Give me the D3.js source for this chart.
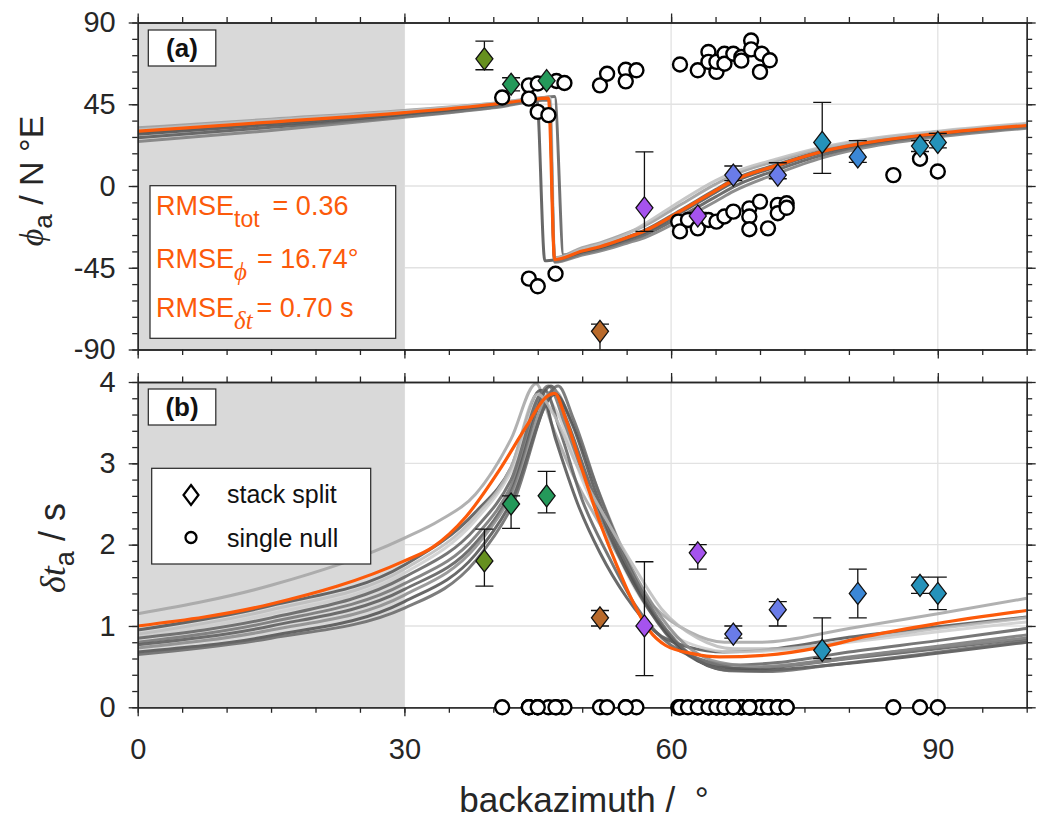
<!DOCTYPE html>
<html><head><meta charset="utf-8">
<script src="https://cdn.jsdelivr.net/npm/d3@7"></script>
<style>
body{margin:0;background:#fff}
svg{display:block}
text{font-family:"Liberation Sans",Arial,Helvetica,sans-serif}
</style>
</head><body>
<svg id="c" width="1039" height="825"></svg>
<script>
// ---------------- DATA ----------------
const xTickValues = [0, 30, 60, 90];
const xTickLabels = ["0", "30", "60", "90"];
const phiTickValues = [-90, -45, 0, 45, 90];
const phiTickLabels = ["-90", "-45", "0", "45", "90"];
const dtTickValues = [0, 1, 2, 3, 4];
const dtTickLabels = ["0", "1", "2", "3", "4"];

// stack splits (diamonds)
const splitBaz   = [39, 42, 46, 52, 57, 63, 67, 72, 77, 81, 88, 90];
const splitPhi   = [70, 56, 58, -80, -12, -16.5, 6, 6, 24, 16, 22, 24];
const splitPhiLo = [64, 52.4, 56.5, -95, -25, -18.5, 3, 4, 7, 13, 19, 21];
const splitPhiHi = [79.7, 59.6, 59.5, -76, 18.8, -14.5, 11, 12.8, 46, 25, 25, 29];
const splitDt    = [1.8, 2.5, 2.6, 1.1, 1.0, 1.9, 0.9, 1.2, 0.7, 1.4, 1.5, 1.4];
const splitDtLo  = [1.49, 2.2, 2.39, 1.0, 0.39, 1.7, 0.85, 1.0, 0.6, 1.1, 1.4, 1.2];
const splitDtHi  = [2.19, 2.6, 2.9, 1.19, 1.79, 2.0, 1.0, 1.3, 1.1, 1.7, 1.6, 1.6];
const splitColor = ["#66901f", "#24995a", "#24995a", "#b96a2b", "#a553ee", "#a553ee",
                    "#6a7ce8", "#6a7ce8", "#2592ba", "#3b87d6", "#2592ba", "#2592ba"];

// single nulls (circles): backazimuth and fast axis
const nullBaz = [41, 44, 44, 45, 45, 46.2, 47.1, 48, 52, 52.8, 54.9, 56.1, 54.9,
                 61, 63, 64.2, 64.2, 65.1, 65.1, 66, 66, 67, 67.9, 67.9, 69, 69, 70.2, 71.1, 70,
                 44, 45, 47,
                 60.8, 61, 61.9, 63, 64.2, 65.1, 66, 67, 68.8, 70, 68.8, 68.8, 70.9, 72, 72, 73, 73,
                 85, 88, 90];
const nullPhi = [48.7, 55.4, 48.1, 56.4, 40.8, 39, 57.8, 56.7, 55.4, 61.8, 64, 63.7, 57.6,
                 66.9, 63.7, 73.8, 68.3, 62.8, 68.3, 72.8, 67.3, 72.8, 71, 69, 80.1, 75.2, 72.8, 69.2, 62.8,
                 -51, -55.2, -48.3,
                 -19.6, -25, -18.7, -23.3, -18.7, -19.6, -16.8, -14.1, -12.3, -8.6, -16.8, -23.8, -23.3, -10.4, -15, -9.5, -12,
                 6, 15, 8];

// best model (orange) [baz, value]
const bestPhi = [[0,30.2],[15,35.2],[30,40.4],[40,45],[43.7,47.2],[46.2,48.4],[46.9,-40.5],[50,-35.8],[52,-33.4],
  [55,-28.5],[57,-24.8],[61,-14],[65,-2.5],[67,3],[72,11.5],[77,19],[81,23],[90,28.9],[100,33.3]];
const bestDt = [[0,1.0],[15,1.27],[30,1.8],[33.2,1.97],[36.9,2.34],[40.7,2.92],[43.7,3.45],[45.9,3.81],[46.9,3.86],
  [48.2,3.53],[50,2.92],[51.9,2.3],[53.8,1.77],[55.6,1.32],[57.5,0.95],[59.4,0.76],[62.4,0.66],[65.4,0.62],
  [70.6,0.64],[76.9,0.74],[81.9,0.87],[89.9,1.03],[100,1.19]];

// ensemble of other models (grey)
const ensPhi = [
  [[0,28.5],[15,33.8],[30,39.2],[40,44],[44.9,47.3],[45.8,-41.2],[47,-40.6],[50,-36.5],[52,-34],[55,-29.2],[57,-25.6],[61,-15],[65,-3.5],[67,2],[72,10.8],[77,18.5],[81,22.6],[90,28.6],[100,33]],
  [[0,29.5],[15,34.7],[30,40],[40,44.8],[44,47.3],[46.9,49.2],[47.9,-38],[50,-35.4],[52,-33],[55,-28.2],[57,-24.4],[61,-13.5],[65,-2],[67,3.5],[72,12],[77,19.4],[81,23.3],[90,29.2],[100,33.6]],
  [[0,32],[15,36.8],[30,41.6],[40,45.6],[46.3,48.8],[46.9,-39.5],[50,-34],[52,-31.3],[55,-26],[57,-22],[61,-10.5],[65,1],[67,6],[72,14],[77,20.8],[81,24.5],[90,29.8],[100,34]],
  [[0,26.5],[15,32.3],[30,38.3],[40,43.4],[46.3,47.6],[46.9,-41.5],[50,-37.2],[52,-35],[55,-30.5],[57,-27],[61,-17],[65,-6],[67,-0.5],[72,9],[77,17],[81,21.5],[90,27.8],[100,32.3]],
  [[0,31],[15,36.2],[30,41.2],[40,45.4],[46.4,48.5],[46.9,-40],[50,-34.8],[52,-32],[55,-26.5],[57,-21],[61,-8.5],[65,3],[67,7.5],[72,15],[77,21.3],[81,25],[90,30.2],[100,34.5]],
  [[0,24.5],[15,30.5],[30,37.8],[40,43],[46.3,47.3],[46.9,-42],[50,-38],[52,-35.8],[55,-31.5],[57,-28.5],[61,-19],[65,-8.5],[67,-3],[72,7],[77,15.5],[81,20.3],[90,27],[100,31.8]]
];
const ensDt = [
  [[0,1.15],[15,1.5],[30,2.08],[34,2.3],[38,2.62],[42,3.3],[44.8,3.98],[46.5,3.5],[49,2.85],[52,2.25],[55,1.7],[58,1.25],[62,0.93],[66,0.8],[70,0.8],[80,0.97],[90,1.15],[100,1.34]],
  [[0,0.95],[15,1.25],[30,1.75],[38,2.4],[42,2.95],[45.3,3.9],[47,3.3],[49.5,2.5],[52,1.9],[55,1.35],[58,0.95],[62,0.74],[66,0.68],[70,0.7],[80,0.86],[90,0.99],[100,1.11]],
  [[0,0.88],[15,1.15],[30,1.65],[38,2.3],[42,2.9],[45.5,3.85],[47.3,3.6],[50,2.8],[53,2.1],[56,1.45],[59,1.0],[63,0.75],[67,0.68],[72,0.7],[80,0.8],[90,0.93],[100,1.05]],
  [[0,0.85],[15,1.1],[30,1.6],[38,2.2],[42,2.8],[45.8,3.9],[47.5,3.4],[50,2.55],[53,1.85],[56,1.25],[59,0.85],[63,0.6],[67,0.52],[72,0.55],[80,0.68],[90,0.82],[100,0.97]],
  [[0,0.8],[15,1.05],[30,1.52],[38,2.1],[42,2.72],[46.2,3.95],[48,3.5],[50.5,2.75],[53.5,2.0],[57,1.3],[60,0.85],[64,0.55],[68,0.48],[73,0.52],[80,0.62],[90,0.75],[100,0.89]],
  [[0,0.77],[15,1.0],[30,1.45],[38,2.02],[42,2.65],[46.5,3.95],[48.2,3.55],[51,2.7],[54,1.9],[57.5,1.2],[61,0.72],[65,0.5],[69,0.47],[74,0.52],[80,0.6],[90,0.72],[100,0.85]],
  [[0,0.73],[15,0.95],[30,1.38],[38,1.97],[42,2.6],[46.8,3.9],[48.5,3.6],[51.5,2.75],[54.5,1.95],[58,1.25],[61.5,0.78],[65.5,0.55],[70,0.5],[76,0.55],[85,0.68],[100,0.85]],
  [[0,0.68],[15,0.88],[30,1.3],[38,1.88],[42,2.52],[47,3.85],[48.8,3.5],[51.5,2.65],[54.5,1.85],[58,1.15],[62,0.65],[66,0.46],[70,0.45],[76,0.5],[85,0.6],[100,0.8]],
  [[0,0.65],[15,0.85],[30,1.22],[38,1.8],[42,2.45],[47.3,3.95],[49,3.55],[52,2.6],[55,1.8],[58.5,1.1],[62.5,0.62],[66.5,0.45],[71,0.44],[78,0.52],[88,0.65],[100,0.82]],
  [[0,0.9],[15,1.2],[30,1.7],[38,2.35],[42,2.95],[45,3.85],[46.8,3.6],[49.5,2.95],[52.5,2.35],[56,1.7],[59,1.2],[63,0.85],[67,0.72],[72,0.72],[80,0.82],[90,0.97],[100,1.1]]
];
const shadeLimit = [0, 30];
const rmseLabels = [["RMSE","tot","= 0.36"],["RMSE","\u03d5","= 16.74\u00b0"],["RMSE","\u03b4t","= 0.70 s"]];
const legendLabels = ["stack split", "single null"];

// ---------------- STYLES ----------------
const ensPhiColor = ["#4e4e4e", "#5a5a5a", "#9a9a9a", "#555555", "#bdbdbd", "#7a7a7a"];
const ensDtColor  = ["#a3a3a3", "#505050", "#cccccc", "#5f5f5f", "#727272", "#585858", "#8a8a8a", "#4f4f4f", "#666666", "#bbbbbb"];
const ORANGE = "#fc5a0a";
const AX = "#262626";
const FONT = '"Liberation Sans",Arial,Helvetica,sans-serif';
const SERIF = '"Liberation Serif","DejaVu Serif",serif';

const svg = d3.select("#c");
const X0 = 137.7, X1 = 1026.7;
const x = d3.scaleLinear().domain([0, 100]).range([X0, X1]);
const yA = d3.scaleLinear().domain([-90, 90]).range([349.5, 22.5]);
const yB = d3.scaleLinear().domain([0, 4]).range([707.3, 382]);

const defs = svg.append("defs");
function clip(id, y) {
  defs.append("clipPath").attr("id", id).append("rect")
    .attr("x", X0).attr("y", y.range()[1]).attr("width", X1 - X0).attr("height", y.range()[0] - y.range()[1]);
}
clip("clipA", yA); clip("clipB", yB);

function styleAxis(g, withText) {
  g.attr("font-family", FONT).attr("font-size", 29);
  g.selectAll("path.domain").attr("stroke", AX).attr("stroke-width", 1.3);
  g.selectAll(".tick line").attr("stroke", AX).attr("stroke-width", 1.3);
  g.selectAll(".tick text").attr("fill", AX);
  if (!withText) g.selectAll(".tick text").remove();
}

function panel(y, yTicks, yLabels, yMinorStep, showX) {
  const top = y.range()[1], bot = y.range()[0];
  const [d0, d1] = y.domain();
  const minor = d3.range(d0, d1 + 1e-9, yMinorStep);
  const g = svg.append("g");
  g.selectAll(null).data(xTickValues.filter(v => v > 0)).join("line")
    .attr("x1", d => x(d)).attr("x2", d => x(d)).attr("y1", top).attr("y2", bot)
    .attr("stroke", "#e2e2e2").attr("stroke-width", 1.3);
  g.selectAll(null).data(yTicks.filter(v => v > d0 && v < d1)).join("line")
    .attr("x1", X0).attr("x2", X1).attr("y1", d => y(d)).attr("y2", d => y(d))
    .attr("stroke", "#e2e2e2").attr("stroke-width", 1.3);
  g.append("rect").attr("x", x(shadeLimit[0])).attr("width", x(shadeLimit[1]) - x(shadeLimit[0]))
    .attr("y", top).attr("height", bot - top).attr("fill", "#d9d9d9");
  const xMinor = d3.range(0, 100.01, 5);
  const axes = [
    [d3.axisLeft(y).tickValues(minor).tickSize(5.5).tickSizeOuter(0), `translate(${X0},0)`],
    [d3.axisRight(y).tickValues(minor).tickSize(5.5).tickSizeOuter(0), `translate(${X1},0)`],
    [d3.axisTop(x).tickValues(xMinor).tickSize(5.5).tickSizeOuter(0), `translate(0,${top})`],
    [d3.axisBottom(x).tickValues(xMinor).tickSize(5.5).tickSizeOuter(0), `translate(0,${bot})`]
  ];
  const axG = svg.append("g").attr("class", "axes");
  axes.forEach(([a, t]) => styleAxis(axG.append("g").attr("transform", t).call(a), false));
  styleAxis(axG.append("g").attr("transform", `translate(${X0},0)`)
    .call(d3.axisLeft(y).tickValues(yTicks).tickSize(9).tickSizeOuter(0).tickPadding(13)
      .tickFormat((d, i) => yLabels[i])), true);
  styleAxis(axG.append("g").attr("transform", `translate(${X1},0)`)
    .call(d3.axisRight(y).tickValues(yTicks).tickSize(9).tickSizeOuter(0)), false);
  styleAxis(axG.append("g").attr("transform", `translate(0,${top})`)
    .call(d3.axisTop(x).tickValues(xTickValues).tickSize(9).tickSizeOuter(0)), false);
  styleAxis(axG.append("g").attr("transform", `translate(0,${bot})`)
    .call(d3.axisBottom(x).tickValues(xTickValues).tickSize(9).tickSizeOuter(0).tickPadding(22)
      .tickFormat((d, i) => xTickLabels[i])), showX);
  return { g, axG };
}

const pA = panel(yA, phiTickValues, phiTickLabels, 9, false);
const pB = panel(yB, dtTickValues, dtTickLabels, 0.2, true);

function drawCurves(p, y, ens, ensColor, best, clipId) {
  const line = d3.line().x(d => x(d[0])).y(d => y(d[1])).curve(d3.curveMonotoneX);
  const cg = p.g.append("g").attr("clip-path", `url(#${clipId})`);
  cg.selectAll("path.ens").data(ens).join("path").attr("class", "ens")
    .attr("d", line).attr("fill", "none").attr("stroke", (d, i) => ensColor[i])
    .attr("stroke-width", 3).attr("stroke-opacity", 0.85).attr("stroke-linejoin", "round");
  cg.append("path").attr("d", line(best)).attr("fill", "none").attr("stroke", ORANGE)
    .attr("stroke-width", 3.2).attr("stroke-linejoin", "round");
}
drawCurves(pA, yA, ensPhi, ensPhiColor, bestPhi, "clipA");
drawCurves(pB, yB, ensDt, ensDtColor, bestDt, "clipB");

function drawMarkers(y, vals, lo, hi, clipId, nullVals) {
  const mg = svg.append("g");
  const eb = mg.append("g").attr("clip-path", `url(#${clipId})`);
  splitBaz.forEach((b, i) => {
    const cx = x(b);
    eb.append("line").attr("x1", cx).attr("x2", cx).attr("y1", y(lo[i])).attr("y2", y(hi[i]))
      .attr("stroke", "#111").attr("stroke-width", 1.3);
    [lo[i], hi[i]].forEach(v => eb.append("line").attr("x1", cx - 9).attr("x2", cx + 9)
      .attr("y1", y(v)).attr("y2", y(v)).attr("stroke", "#111").attr("stroke-width", 1.3));
  });
  mg.selectAll("circle").data(nullBaz).join("circle")
    .attr("cx", d => x(d)).attr("cy", (d, i) => y(nullVals(i))).attr("r", 7)
    .attr("fill", "#fff").attr("stroke", "#000").attr("stroke-width", 2.4);
  mg.selectAll("path.dia").data(splitBaz).join("path").attr("class", "dia")
    .attr("d", (d, i) => `M${x(d)},${y(vals[i]) - 11}l8.5,11l-8.5,11l-8.5,-11z`)
    .attr("fill", (d, i) => splitColor[i]).attr("stroke", "#111").attr("stroke-width", 1.3);
}
drawMarkers(yA, splitPhi, splitPhiLo, splitPhiHi, "clipA", i => nullPhi[i]);
drawMarkers(yB, splitDt, splitDtLo, splitDtHi, "clipB", i => 0);

function panelLabel(txt, y0) {
  svg.append("rect").attr("x", 148.3).attr("y", y0).attr("width", 67.5).attr("height", 36)
    .attr("fill", "#fff").attr("stroke", AX).attr("stroke-width", 1.2);
  svg.append("text").attr("x", 182).attr("y", y0 + 27).attr("text-anchor", "middle")
    .attr("font-weight", "bold").attr("font-size", 26).attr("fill", "#111").text(txt);
}
panelLabel("(a)", 30);
panelLabel("(b)", 389);

svg.append("rect").attr("x", 150).attr("y", 185.7).attr("width", 245.7).attr("height", 152.6)
  .attr("fill", "#fff").attr("stroke", AX).attr("stroke-width", 1.2);
const rmseY = [215, 268, 317];
const rmseGap = [13, 10, 4];
rmseLabels.forEach((r, i) => {
  const t = svg.append("text").attr("x", 156).attr("y", rmseY[i]).attr("font-size", 27).attr("fill", ORANGE);
  t.append("tspan").text(r[0]);
  const sub = t.append("tspan").attr("dy", 12).attr("font-size", 23).text(r[1]);
  if (i > 0) sub.attr("font-family", SERIF).attr("font-style", "italic").attr("font-size", 25);
  t.append("tspan").attr("dy", -12).attr("dx", rmseGap[i]).text(r[2]);
});

svg.append("rect").attr("x", 151.7).attr("y", 468.3).attr("width", 219).attr("height", 95.7)
  .attr("fill", "#fff").attr("stroke", AX).attr("stroke-width", 1.2);
svg.append("path").attr("d", "M191,485l7.5,10l-7.5,10l-7.5,-10z").attr("fill", "none")
  .attr("stroke", "#000").attr("stroke-width", 2.2);
svg.append("circle").attr("cx", 191).attr("cy", 537.5).attr("r", 5.5).attr("fill", "none")
  .attr("stroke", "#000").attr("stroke-width", 2.3);
legendLabels.forEach((l, i) => svg.append("text").attr("x", 227).attr("y", 503 + i * 43.5)
  .attr("font-size", 25).attr("fill", "#111").text(l));

const yt1 = svg.append("text").attr("transform", "translate(43,181) rotate(-90)")
  .attr("text-anchor", "middle").attr("font-size", 34).attr("fill", AX);
yt1.append("tspan").attr("font-family", SERIF).attr("font-style", "italic").text("\u03d5");
yt1.append("tspan").attr("font-size", 26).attr("dy", 9).text("a");
yt1.append("tspan").attr("dy", -9).style("white-space", "pre").text(" / N \u00b0E");

const yt2 = svg.append("text").attr("transform", "translate(65,548) rotate(-90)")
  .attr("text-anchor", "middle").attr("font-size", 36).attr("fill", AX);
yt2.append("tspan").attr("font-family", SERIF).attr("font-style", "italic").text("\u03b4t");
yt2.append("tspan").attr("font-size", 27).attr("dy", 9).text("a");
yt2.append("tspan").attr("dy", -9).style("white-space", "pre").text(" / s");

svg.append("text").attr("x", 584).attr("y", 812).attr("text-anchor", "middle")
  .attr("font-size", 35).attr("fill", AX).style("white-space", "pre").text("backazimuth /  \u00b0");
</script>
</body></html>
